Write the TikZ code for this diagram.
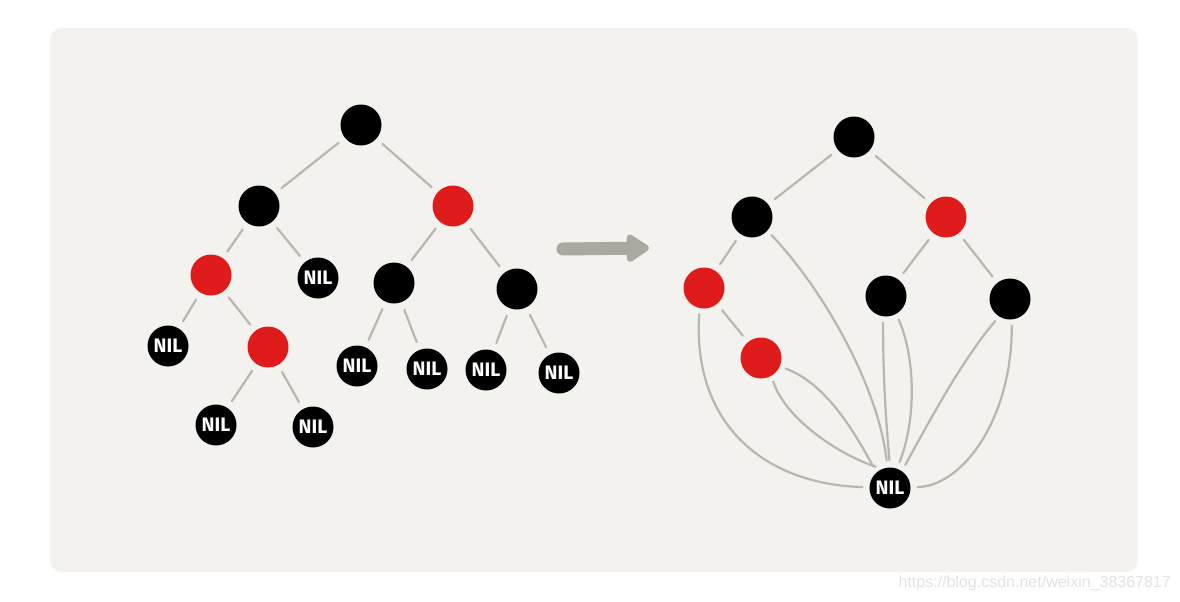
\documentclass[tikz,border=0pt]{standalone}
\usepackage{fontspec}
\newfontfamily\nilfont{Fira Sans}
\newfontfamily\wmfont{Liberation Sans}
\usetikzlibrary{arrows.meta}
\definecolor{panel}{HTML}{F3F2EE}
\definecolor{edgegray}{HTML}{B8B6AF}
\definecolor{arrowgray}{HTML}{ABA89F}
\definecolor{rbred}{HTML}{E01B1B}
\definecolor{wm}{HTML}{E2E2E2}
\tikzset{
  blk/.style={circle, fill=black, minimum size=41pt, inner sep=0pt},
  rd/.style={circle, fill=rbred, minimum size=41pt, inner sep=0pt},
  nil/.style={circle, fill=black, minimum size=41pt, inner sep=0pt, text=white, font=\nilfont\bfseries\fontsize{19.5}{19.5}\selectfont},
  edge/.style={draw=edgegray, line width=2.2pt, line cap=round, shorten <=8pt, shorten >=8pt},
  curve/.style={draw=edgegray, line width=2.2pt, line cap=round, shorten <=6pt, shorten >=7pt},
}
\begin{document}
\begin{tikzpicture}[x=1pt,y=-1pt]
\useasboundingbox (0,0) rectangle (1180,602);
\fill[panel, rounded corners=12pt] (50,28) rectangle (1138,572);
% left tree
\node[blk] (a) at (361,125) {};
\node[blk] (b) at (259,206) {};
\node[rd]  (c) at (453,206) {};
\node[rd]  (d) at (211,275) {};
\node[nil] (n1) at (318,278) {NIL};
\node[blk] (e) at (394,283) {};
\node[blk] (f) at (517,289) {};
\node[nil] (n2) at (168,346) {NIL};
\node[rd]  (g) at (268,347) {};
\node[nil] (n3) at (357,366) {NIL};
\node[nil] (n4) at (427,369) {NIL};
\node[nil] (n5) at (486,370) {NIL};
\node[nil] (n6) at (559,373) {NIL};
\node[nil] (n7) at (216,425) {NIL};
\node[nil] (n8) at (313,427) {NIL};
\foreach \u/\v in {a/b,a/c,b/d,b/n1,c/e,c/f,d/n2,d/g,e/n3,e/n4,f/n5,f/n6,g/n7,g/n8}
  \path[edge] (\u) -- (\v);
% arrow
\coordinate (ar1) at (563,249);
\coordinate (ar2) at (649,248);
\draw[arrowgray, line width=13pt, line cap=round, -{Triangle[length=25pt,width=31pt,round]}] (ar1) -- (ar2);
% right tree
\node[blk] (A) at (854,137) {};
\node[blk] (B) at (752,217) {};
\node[rd]  (C) at (946,217) {};
\node[rd]  (D) at (704,288) {};
\node[blk] (E) at (886,296) {};
\node[blk] (F) at (1010,299) {};
\node[rd]  (G) at (761,358) {};
\node[nil] (N) at (890,488) {NIL};
\foreach \u/\v in {A/B,A/C,B/D,D/G,C/E,C/F}
  \path[edge] (\u) -- (\v);
\path[curve] (D.-102) .. controls (692,420) and (760,484) .. (N.178);
\path[curve] (B.-42) .. controls (822,288) and (878,385) .. (N.97);
\path[curve] (G.-24) .. controls (830,385) and (858,440) .. (N.130);
\path[curve] (G.-60) .. controls (786,420) and (840,455) .. (N.112);
\path[curve] (E.-98) .. controls (883,380) and (886,420) .. (N.90);
\path[curve] (E.-60) .. controls (916,360) and (916,420) .. (N.70);
\path[curve] (F.-122) .. controls (962,360) and (930,420) .. (N.55);
\path[curve] (F.-85) .. controls (1012,420) and (962,486) .. (N.2);
% watermark
\node[anchor=east, text=wm, font=\wmfont\fontsize{16}{16}\selectfont, inner sep=0pt] (wmk) at (1171,583) {https://blog.csdn.net/weixin\_38367817};
\end{tikzpicture}
\end{document}
